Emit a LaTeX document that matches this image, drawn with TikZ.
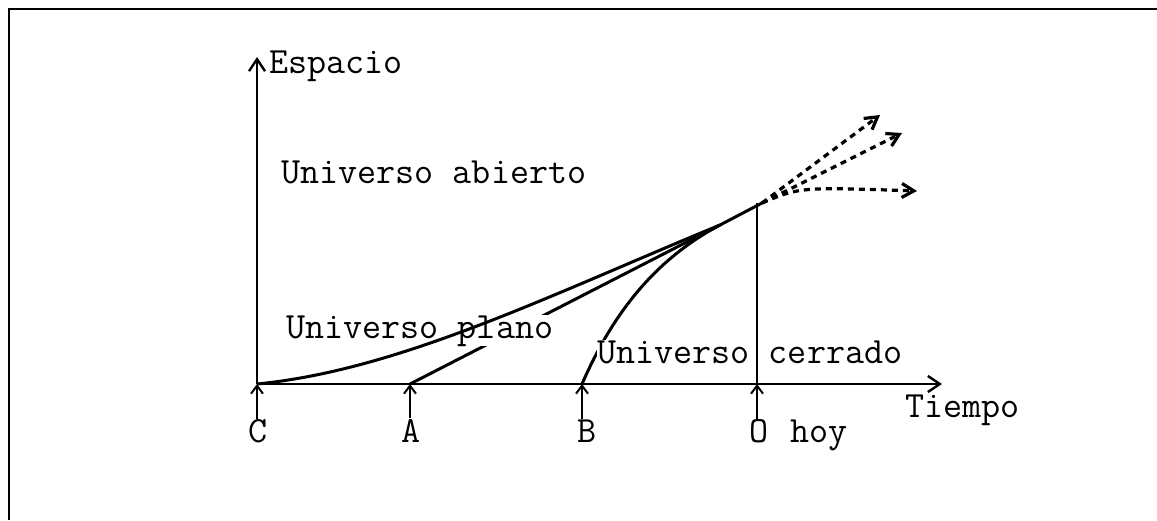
\documentclass[tikz,border=0pt]{standalone}
\usetikzlibrary{arrows.meta,positioning}
\tikzset{
  axisline/.style={
    line width=1.2pt,
    -{Straight Barb[length=6pt,width=8pt]}
  },
  tickarrow/.style={
    line width=1pt,
    -{Straight Barb[length=4pt,width=6pt]}
  },
  evol/.style={
    line width=1.5pt
  },
  future/.style={
    line width=1.6pt,
    dash pattern=on 3pt off 2.5pt,
    -{Straight Barb[length=6pt,width=7pt]}
  },
  txt/.style={
    anchor=base west,
    inner sep=0pt,
    font=\ttfamily\fontsize{18.5}{22}\selectfont
  }
}

\begin{document}
\begin{tikzpicture}[x=0.5pt, y=-0.5pt]
  \useasboundingbox (0,0) rectangle (1157,520);
  \draw[line width=1pt] (1157,9) -- (9,9) -- (9,520);

  % axes and marks on the time axis
  \coordinate (origin) at (257,384);
  \coordinate (ytip) at (257,57);
  \coordinate (xtip) at (942,384);
  \coordinate (tA) at (410,384);
  \coordinate (tB) at (582,384);
  \coordinate (tO) at (757,384);
  \coordinate (join) at (720,225);
  \coordinate (today) at (762,203);

  \node[txt] (espacio) at (269,73) {Espacio};
  \node[txt] (tiempo) at (905,417) {Tiempo};
  \node[txt] (abierto) at (281,183) {Universo abierto};
  \node[txt, anchor=base] (C) at (258,442) {C};
  \node[txt, anchor=base] (A) at (411,442) {A};
  \node[txt, anchor=base] (B) at (587,442) {B};
  \node[txt, anchor=base] (O) at (759,442) {O};
  \node[txt] (hoy) at (790,442) {hoy};

  \draw[evol] (tA) -- (join);
  \draw[evol] (tB) .. controls (610,320) and (650,262) .. (join);
  \node[txt, fill=white] (plano) at (286,338) {Universo plano};
  \node[txt, fill=white] (cerrado) at (597,363) {Universo cerrado};
  \draw[evol] (origin) .. controls (400,370) and (550,295) .. (join) -- (today);
  \draw[line width=0.7pt] (tO) -- (tO |- today);

  \draw[axisline] (origin) -- (ytip);
  \draw[axisline] (origin) -- (xtip);
  \draw[tickarrow] (origin |- C.north) -- (origin);
  \draw[tickarrow] (tA |- A.north) -- (tA);
  \draw[tickarrow] (tB |- B.north) -- (tB);
  \draw[tickarrow] (tO |- O.north) -- (tO);

  % possible futures
  \draw[future] (today) -- (880,115);
  \draw[future] (today) -- (902,133);
  \draw[future] (today) .. controls (800,187) .. (917,191);
\end{tikzpicture}
\end{document}
